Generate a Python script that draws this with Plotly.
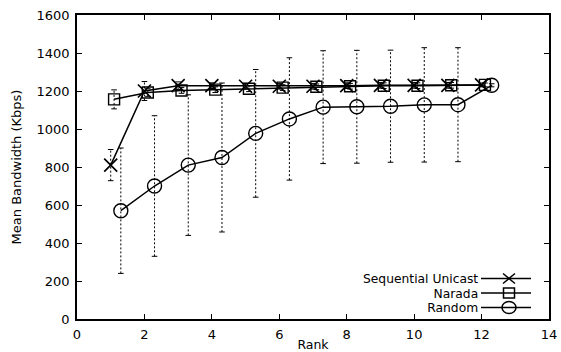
import plotly.graph_objects as go

# ---- data ----
rank = [1, 2, 3, 4, 5, 6, 7, 8, 9, 10, 11, 12]

seq_x = [1.0, 2.0, 3.0, 4.0, 5.0, 6.0, 7.0, 8.0, 9.0, 10.0, 11.0, 12.0]
seq_mean = [810, 1200, 1228, 1228, 1225, 1225, 1225, 1228, 1230, 1230, 1230, 1232]
seq_err = [82, 50, 20, 15, 15, 15, 15, 15, 15, 15, 15, 10]

narada_x = [1.1, 2.1, 3.1, 4.1, 5.1, 6.1, 7.1, 8.1, 9.1, 10.1, 11.1, 12.1]
narada_mean = [1156, 1192, 1203, 1207, 1212, 1218, 1222, 1225, 1228, 1228, 1230, 1232]
narada_err = [50, 20, 15, 15, 15, 15, 15, 15, 15, 15, 15, 10]

random_x = [1.3, 2.3, 3.3, 4.3, 5.3, 6.3, 7.3, 8.3, 9.3, 10.3, 11.3, 12.3]
random_mean = [570, 700, 810, 850, 977, 1053, 1115, 1117, 1120, 1127, 1128, 1230]
random_err = [330, 370, 370, 392, 336, 322, 297, 297, 295, 301, 300, 8]

series_names = ["Sequential Unicast", "Narada", "Random"]

x_ticks = [0, 2, 4, 6, 8, 10, 12, 14]
y_ticks = [0, 200, 400, 600, 800, 1000, 1200, 1400, 1600]

FONT = "DejaVu Sans, Liberation Sans, Arial, sans-serif"

fig = go.Figure()


def add_errorbars(xs, means, errs):
    ex, ey, cx, cy = [], [], [], []
    for x, m, e in zip(xs, means, errs):
        ex += [x, x, None]
        ey += [m - e, m + e, None]
        cx += [x, x]
        cy += [m - e, m + e]
    fig.add_trace(go.Scatter(x=ex, y=ey, mode="lines",
                             line=dict(color="black", width=1, dash="2px,2px"),
                             hoverinfo="skip", showlegend=False))
    fig.add_trace(go.Scatter(x=cx, y=cy, mode="markers",
                             marker=dict(symbol="line-ew", size=4,
                                         line=dict(color="black", width=1)),
                             hoverinfo="skip", showlegend=False))


add_errorbars(seq_x, seq_mean, seq_err)
add_errorbars(narada_x, narada_mean, narada_err)
add_errorbars(random_x, random_mean, random_err)

fig.add_trace(go.Scatter(x=random_x, y=random_mean, mode="lines+markers", name=series_names[2],
                         line=dict(color="black", width=1.5),
                         marker=dict(symbol="circle-open", size=14,
                                     line=dict(color="black", width=1.4))))
fig.add_trace(go.Scatter(x=narada_x, y=narada_mean, mode="lines+markers", name=series_names[1],
                         line=dict(color="black", width=1.5),
                         marker=dict(symbol="square-open", size=11,
                                     line=dict(color="black", width=1.4))))
fig.add_trace(go.Scatter(x=seq_x, y=seq_mean, mode="lines+markers", name=series_names[0],
                         line=dict(color="black", width=1.5),
                         marker=dict(symbol="x-thin-open", size=13,
                                     line=dict(color="black", width=1.7))))

# ---- custom legend (text left of sample, as in the original) ----
L = 77
R = 549
T = 15
B = 319
pw = R - L
ph = B - T
rows_px = [278.5, 293, 307.5]
text_right = (478 - L) / pw
line_x0 = (481 - L) / pw
line_x1 = (531 - L) / pw
mark_x = (509 - L) / pw
shapes = []

legend_text = "<br>".join("<span style='font-size:12.3px'>%s</span>" % n for n in series_names)
annotations = [dict(xref="paper", yref="paper", x=text_right, y=(B - rows_px[1]) / ph,
                    text=legend_text, showarrow=False, xanchor="right", yanchor="middle",
                    align="right", xshift=2, yshift=0,
                    font=dict(family=FONT, size=11.2, color="black"))]

for i, name in enumerate(series_names):
    yp = (B - rows_px[i]) / ph
    shapes.append(dict(type="line", xref="paper", yref="paper",
                       x0=line_x0, x1=line_x1, y0=yp, y1=yp,
                       line=dict(color="black", width=1.5)))
    common = dict(xref="paper", yref="paper", xsizemode="pixel", ysizemode="pixel",
                  xanchor=mark_x, yanchor=yp, line=dict(color="black", width=1.5))
    if i == 0:
        shapes.append(dict(type="path", path="M-6,-5 L6,5 M-6,5 L6,-5", **common))
    elif i == 1:
        shapes.append(dict(type="rect", x0=-5.5, x1=5.5, y0=-5, y1=5, **common))
    else:
        shapes.append(dict(type="circle", x0=-7, x1=7, y0=-6, y1=6, **common))

axis_common = dict(showline=True, linecolor="black", linewidth=1.5, mirror="allticks",
                   ticks="inside", ticklen=5, tickwidth=1.2, tickcolor="black",
                   showgrid=False, zeroline=False,
                   tickfont=dict(family=FONT, size=13, color="black"))

fig.update_layout(
    width=561, height=352,
    margin=dict(l=L, r=561 - R, t=T, b=352 - B, autoexpand=False),
    paper_bgcolor="white", plot_bgcolor="white",
    showlegend=False,
    xaxis=dict(range=[0, 14], tickvals=x_ticks, ticktext=[str(v) for v in x_ticks],
               ticklabelstandoff=3,
               title=dict(text="Rank", font=dict(family=FONT, size=12.5, color="black"), standoff=6),
               **axis_common),
    yaxis=dict(range=[0, 1600], tickvals=y_ticks, ticktext=[str(v) for v in y_ticks],
               ticklabelstandoff=3,
               title=dict(text="Mean Bandwidth (Kbps)", font=dict(family=FONT, size=13, color="black"),
                          standoff=12),
               **axis_common),
    shapes=shapes,
    annotations=annotations,
)

fig.write_html("out.html", config={"displayModeBar": False},
               post_script="document.body.style.margin='0px';")
